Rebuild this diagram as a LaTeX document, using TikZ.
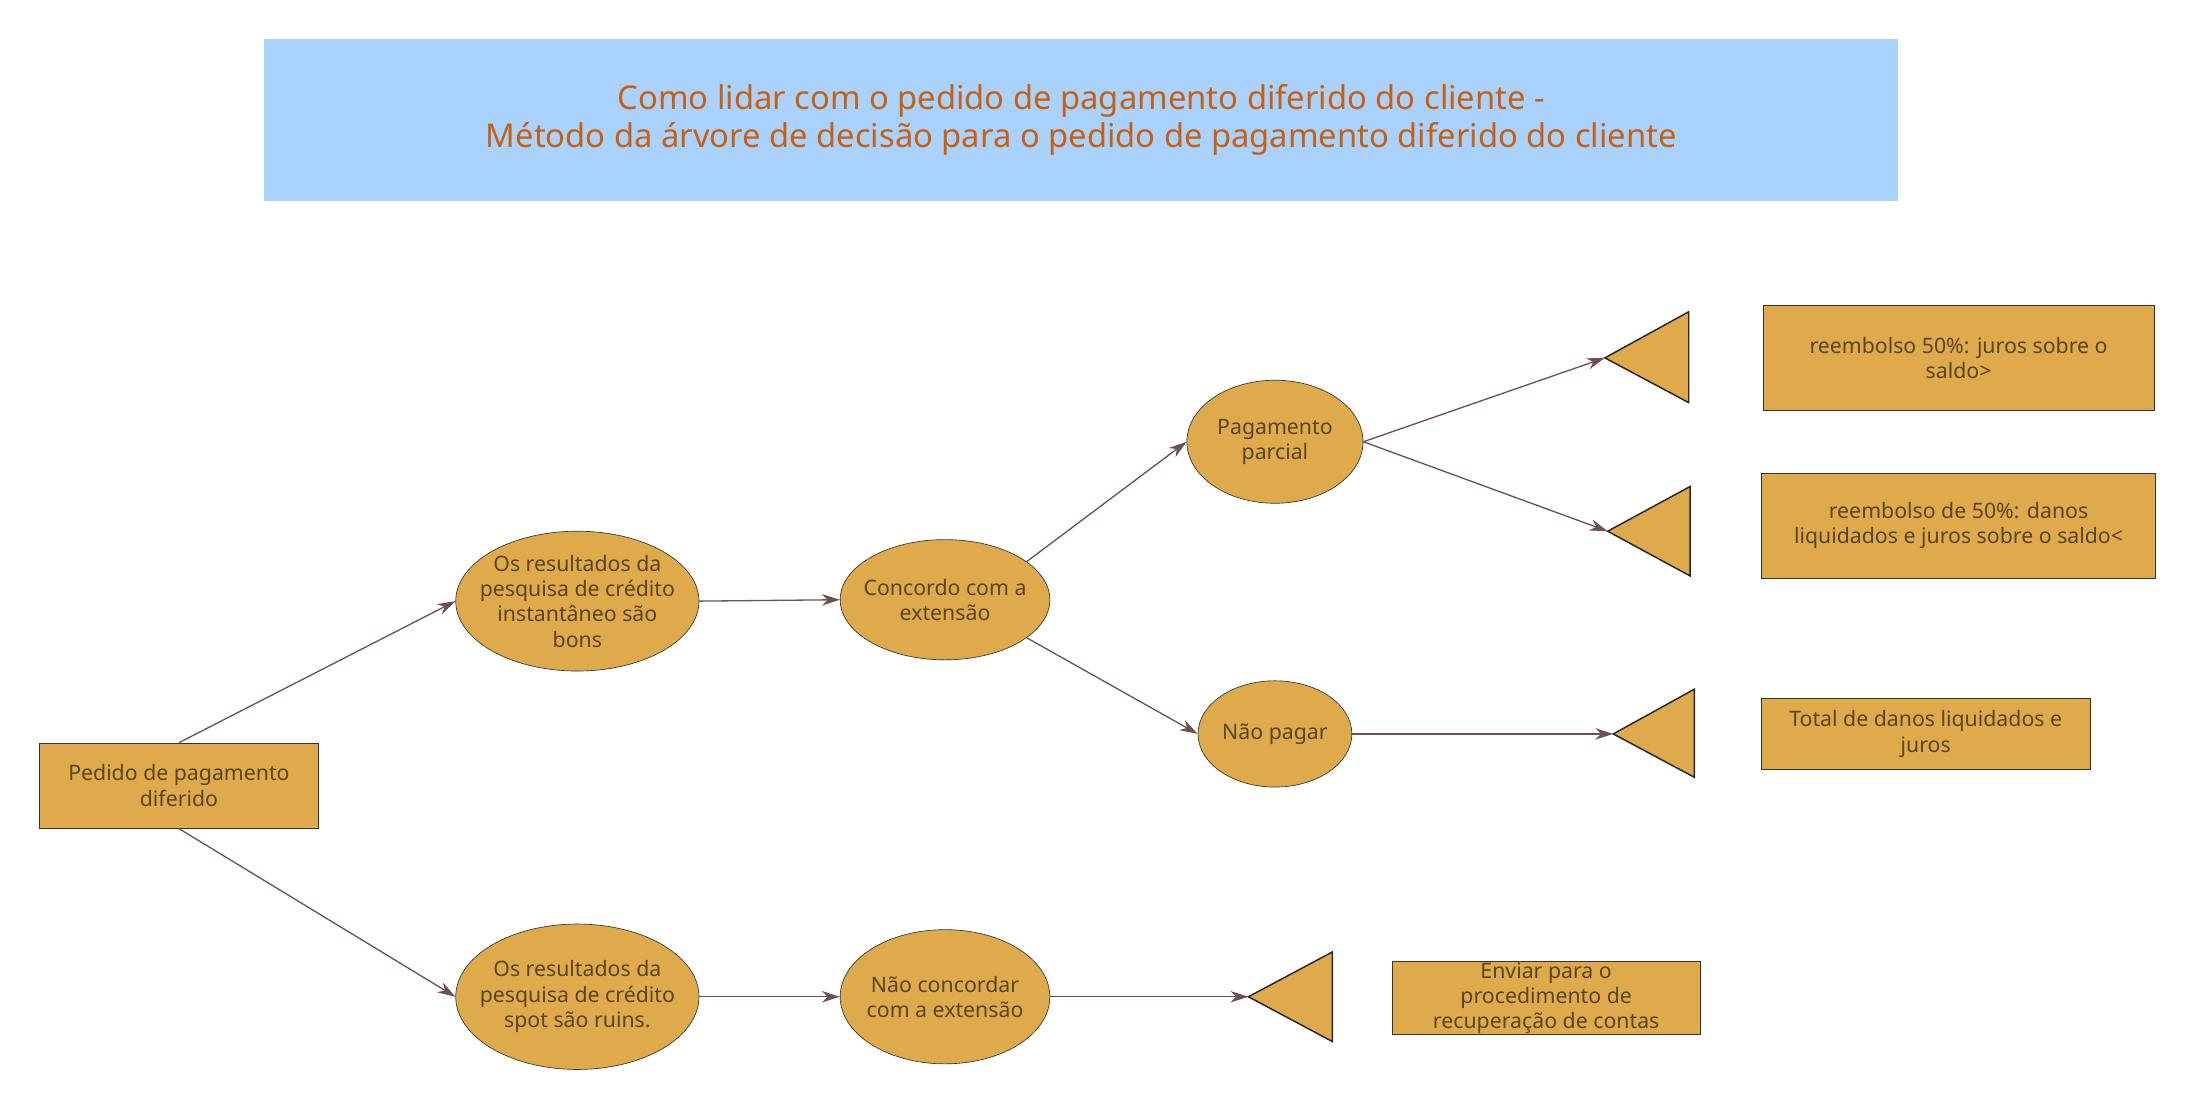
\documentclass[tikz,border=0pt]{standalone}
\usepackage{fontspec}
\setmainfont{Noto Sans}
\usetikzlibrary{arrows.meta,shapes.geometric}
\definecolor{fillc}{HTML}{DEAA4C}
\definecolor{txtc}{HTML}{5A4514}
\definecolor{arr}{HTML}{6E5050}
\definecolor{titlebg}{HTML}{A9D2FF}
\definecolor{titletx}{HTML}{C8600E}
\begin{document}
\begin{tikzpicture}[x=0.03cm,y=-0.03cm,
  box/.style={draw=black!80,fill=fillc,text=txtc,font=\fontsize{13}{15.5}\selectfont,align=center,inner sep=0pt},
  ell/.style={draw=black!80,fill=fillc,ellipse,inner sep=0pt},
  lbl/.style={text=txtc,font=\fontsize{13}{15.5}\selectfont,align=center,inner sep=0pt},
  tri/.style={draw=black!85,fill=fillc,line width=0.9pt},
  con/.style={draw=arr,line width=0.8pt,-{Stealth[length=11pt,width=7pt]}}]
\useasboundingbox (0,0) rectangle (1568,792);
\node[fill=titlebg,minimum width=1169*0.03cm,minimum height=116*0.03cm,text=titletx,font=\fontsize{20}{23}\selectfont,align=center] (title) at (773.5,86) {Como lidar com o pedido de pagamento diferido do cliente -\\Método da árvore de decisão para o pedido de pagamento diferido do cliente};
\node[box,minimum width=200*0.03cm,minimum height=61*0.03cm] (start) at (128,562) {Pedido de pagamento\\diferido};
\node[ell,minimum width=174*0.03cm,minimum height=100*0.03cm] (e1) at (413,430) {};
\node[lbl] at (e1) {Os resultados da\\pesquisa de crédito\\instantâneo são\\bons};
\node[ell,minimum width=174*0.03cm,minimum height=104*0.03cm] (e2) at (413,713) {};
\node[lbl] at (e2) {Os resultados da\\pesquisa de crédito\\spot são ruins.};
\node[ell,minimum width=150*0.03cm,minimum height=86*0.03cm] (e3) at (676,429) {};
\node[lbl] at (e3) {Concordo com a\\extensão};
\node[ell,minimum width=150*0.03cm,minimum height=96*0.03cm] (e4) at (676,713) {};
\node[lbl] at (e4) {Não concordar\\com a extensão};
\node[ell,minimum width=126*0.03cm,minimum height=88*0.03cm] (e5) at (912,316) {};
\node[lbl] at (e5) {Pagamento\\parcial};
\node[ell,minimum width=110*0.03cm,minimum height=76*0.03cm] (e6) at (912,525) {};
\node[lbl] at (e6) {Não pagar};
\draw[tri] (1148,256) coordinate (t1) -- (1208,223) -- (1208,288) -- cycle;
\draw[tri] (1150,380) coordinate (t2) -- (1209,348) -- (1209,412) -- cycle;
\draw[tri] (1154,525) coordinate (t3) -- (1212,493) -- (1212,556) -- cycle;
\draw[tri] (893,713) coordinate (t4) -- (953,681) -- (953,745) -- cycle;
\node[box,minimum width=280*0.03cm,minimum height=75*0.03cm] (r1) at (1401,256) {reembolso 50\%: juros sobre o\\saldo>};
\node[box,minimum width=282*0.03cm,minimum height=75*0.03cm] (r2) at (1401,376) {reembolso de 50\%: danos\\liquidados e juros sobre o saldo<};
\node[box,minimum width=235*0.03cm,minimum height=51*0.03cm] (r3) at (1377.5,525) {Total de danos liquidados e\\juros};
\node[box,minimum width=220*0.03cm,minimum height=52*0.03cm] (r4) at (1106,714) {Enviar para o\\procedimento de\\recuperação de contas};
\draw[con] (start.north) -- (e1.west);
\draw[con] (start.south) -- (e2.west);
\draw[con] (e1.east) -- (e3.west);
\draw[con] (e2.east) -- (e4.west);
\draw[con] (e3.25) -- (e5.west);
\draw[con] (e3.-25) -- (e6.west);
\draw[con] (e5.east) -- (t1);
\draw[con] (e5.east) -- (t2);
\draw[con] (e6.east) -- (t3);
\draw[con] (e4.east) -- (t4);
\end{tikzpicture}
\end{document}
